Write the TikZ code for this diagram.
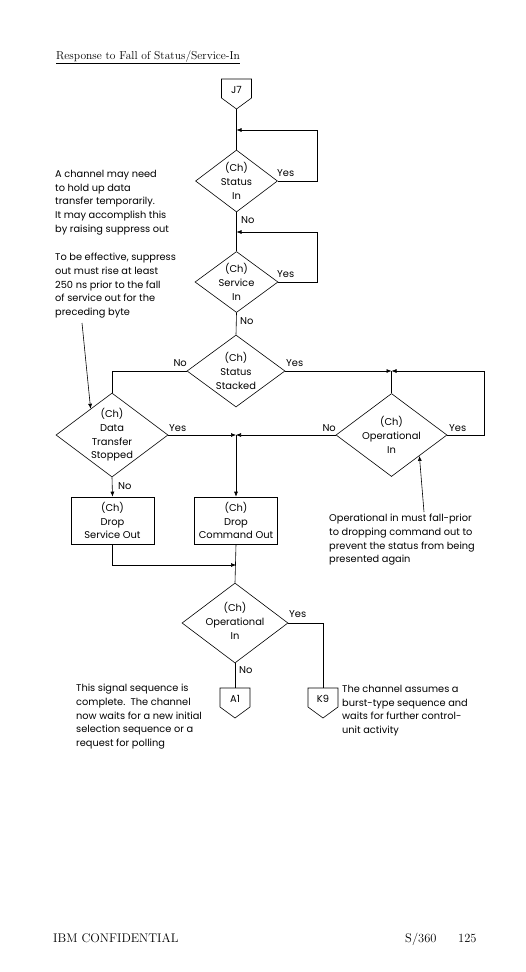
\documentclass[tikz,border=0pt]{standalone}
\usepackage{fontspec}
\newfontfamily\fut{Poppins}
\usetikzlibrary{shapes.geometric,arrows.meta,calc}
\newcommand\offpage[4]{%
  \draw[ln] (#2-15,#3) -- (#2+15,#3) -- (#2+15,#3+19) -- (#2,#3+30) -- (#2-15,#3+19) -- cycle;
  \node[lbl] (#1) at (#2,#3+10.5) {#4};
  \coordinate (#1top) at (#2,#3);
  \coordinate (#1tip) at (#2,#3+30);
}
\begin{document}
\begin{tikzpicture}[x=1pt,y=-1pt,
  ln/.style={draw, line width=0.6pt},
  arr/.style={ln, -{Latex[length=5pt,width=4pt]}},
  dia/.style={diamond, draw, line width=0.6pt, inner sep=0pt},
  dtext/.style={align=center, inner sep=0pt, font=\fut\fontsize{9.9}{13.7}\selectfont},
  box/.style={rectangle, draw, line width=0.6pt, minimum width=83pt, minimum height=47pt, inner sep=0pt, align=center, font=\fut\fontsize{9.9}{13.5}\selectfont},
  lbl/.style={font=\fut\fontsize{9.9}{11}\selectfont, inner sep=0pt},
  note/.style={font=\fut\fontsize{9.8}{13.75}\selectfont, align=left, inner sep=0pt, anchor=north west},
  ser/.style={font=\fontsize{11.5}{13}\selectfont, inner sep=0pt, anchor=base west},
  foot/.style={font=\fontsize{12.5}{14}\selectfont, inner sep=0pt, anchor=base west},
]
\useasboundingbox (0,0) rectangle (526,972);
\fill[white] (0,0) rectangle (526,972);

% title
\node[ser] (title) at (56,59) {Response to Fall of Status/Service-In};
\draw[line width=0.5pt] ($(title.base west)+(0,4)$) -- ($(title.base east)+(0,4)$);

% connectors
\offpage{j7}{236.5}{79}{J7}
\offpage{a1}{235}{688}{A1}
\offpage{k9}{323}{688}{K9}

% diamonds
\node[dia, minimum width=82pt, minimum height=62pt] (d1) at (236.5,181) {};
\node[dtext] (t1) at (d1) {(Ch)\\Status\\In};
\node[dia, minimum width=83pt, minimum height=61pt] (d2) at (236.5,282) {};
\node[dtext] (t2) at (d2) {(Ch)\\Service\\In};
\node[dia, minimum width=98pt, minimum height=72pt] (d3) at (236,371) {};
\node[dtext] (t3) at (d3) {(Ch)\\Status\\Stacked};
\node[dia, minimum width=112pt, minimum height=84pt] (d4) at (112,435) {};
\node[dtext] (t4) at (d4) {(Ch)\\Data\\Transfer\\Stopped};
\node[dia, minimum width=111pt, minimum height=83pt] (d5) at (391.5,435) {};
\node[dtext] (t5) at (d5) {(Ch)\\Operational\\In};
\node[dia, minimum width=106pt, minimum height=80pt] (d6) at (235,623) {};
\node[dtext] (t6) at ($(d6)+(0,-2)$) {(Ch)\\Operational\\In};

% boxes
\node[box] (b1) at (112.5,520.5) {(Ch)\\Drop\\Service Out};
\node[box] (b2) at (236,520.5) {(Ch)\\Drop\\Command Out};

% merge points
\coordinate (m1) at (236.5,130);
\coordinate (m2) at (236.5,232);
\coordinate (m3) at (391.5,371);
\coordinate (m4) at (236,435);
\coordinate (m5) at (236,565);

% flow lines
\draw[ln] (j7tip) -- (d1.north);
\draw[arr] (d1.east) -- ++(39,0) |- (m1);
\draw[ln] (d1.south) -- (d2.north);
\draw[arr] (d2.east) -- ++(39,0) |- (m2);
\draw[ln] (d2.south) -- (d3.north);
\draw[ln] (d3.west) -| (d4.north);
\draw[arr] (d3.east) -- (m3);
\draw[arr] (d5.east) -- ++(37,0) |- (m3);
\draw[ln] (m3) -- (d5.north);
\draw[arr] (d4.east) -- (m4);
\draw[arr] (d5.west) -- (m4);
\draw[arr] (m4) -- (b2.north);
\draw[arr] (d4.south) -- (b1.north);
\draw[arr] (b1.south) |- (m5);
\draw[ln] (b2.south) -- (d6.north);
\draw[ln] (d6.east) -| (k9top);
\draw[ln] (d6.south) -- (a1top);

% yes / no labels
\node[lbl, anchor=west] (y1) at (277,173) {Yes};
\node[lbl, anchor=west] (n1) at (241,220) {No};
\node[lbl, anchor=west] (y2) at (277,274) {Yes};
\node[lbl, anchor=west] (n2) at (240,321) {No};
\node[lbl, anchor=east] (n3) at (187,363) {No};
\node[lbl, anchor=west] (y3) at (286,363) {Yes};
\node[lbl, anchor=west] (y4) at (169,428) {Yes};
\node[lbl, anchor=east] (n5) at (336,428) {No};
\node[lbl, anchor=west] (y5) at (449,428) {Yes};
\node[lbl, anchor=west] (n4) at (118,486) {No};
\node[lbl, anchor=west] (y6) at (289,614) {Yes};
\node[lbl, anchor=west] (n6) at (239,670) {No};

% notes
\node[note] (na) at (55,170) {A channel may need\\to hold up data\\transfer temporarily.\\It may accomplish this\\by raising suppress out};
\node[note] (nb) at (55,253) {To be effective, suppress\\out must rise at least\\250 ns prior to the fall\\of service out for the\\preceding byte};
\node[note] (nc) at (329,514) {Operational in must fall-prior\\to dropping command out to\\prevent the status from being\\presented again};
\node[note] (nd) at (76,684) {This signal sequence is\\complete.\ \ The channel\\now waits for a new initial\\selection sequence or a\\request for polling};
\node[note] (ne) at (342,685) {The channel assumes a\\burst-type sequence and\\waits for further control-\\unit activity};

\coordinate (la) at (82,323);
\draw[arr] (la) -- ($(d4.north)!0.38!(d4.west)$);
\coordinate (lc) at (424,512);
\draw[arr] (lc) -- (d5.south east);

% footer
\node[foot] (conf) at (53,942) {IBM CONFIDENTIAL};
\node[foot] (sys) at (405,942) {S/360};
\node[foot] (pg) at (458,942) {125};
\end{tikzpicture}
\end{document}
